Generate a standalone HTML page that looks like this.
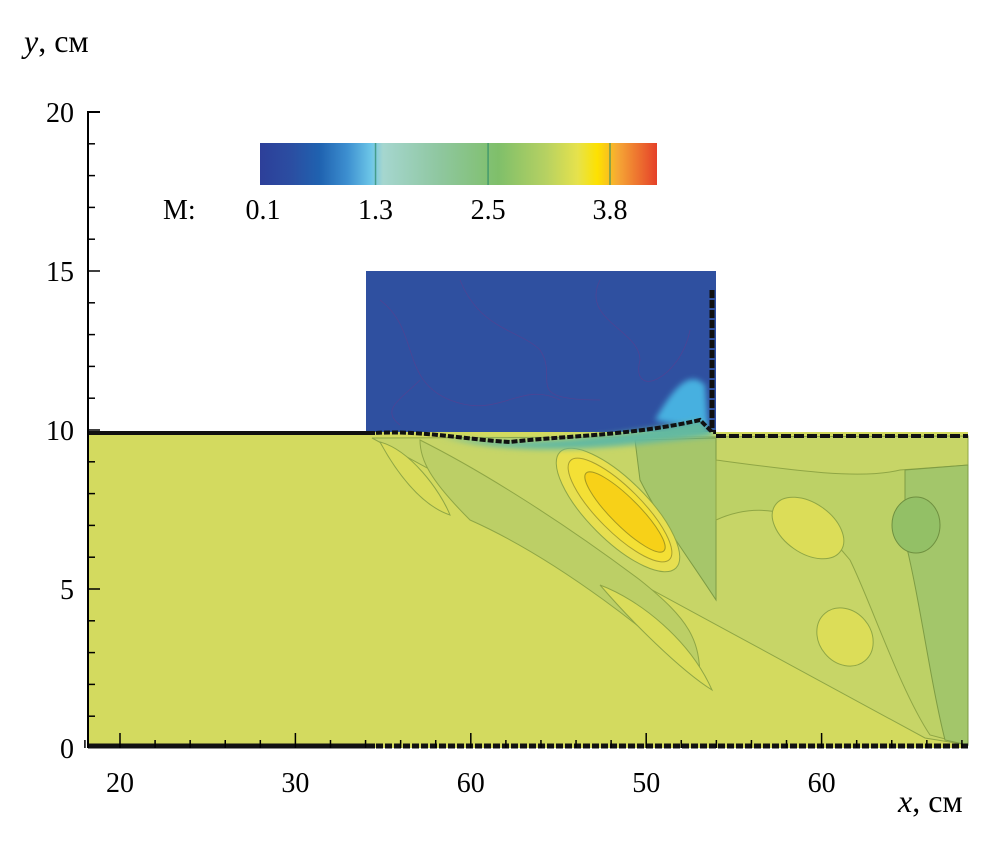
<!DOCTYPE html>
<html><head><meta charset="utf-8"><style>
html,body{margin:0;padding:0;background:#fff;}
svg{display:block;font-family:"Liberation Serif",serif;}
</style></head><body>
<svg id="chart" width="1008" height="847" viewBox="0 0 1008 847">
<defs>
<linearGradient id="cbar" x1="0" x2="1" y1="0" y2="0">
<stop offset="0" stop-color="#2d3f99"/><stop offset="0.08" stop-color="#2b4ea2"/>
<stop offset="0.15" stop-color="#1f62b0"/><stop offset="0.22" stop-color="#3d8fd0"/>
<stop offset="0.28" stop-color="#6cc6e8"/><stop offset="0.31" stop-color="#a5d6cf"/>
<stop offset="0.45" stop-color="#8fc7a0"/><stop offset="0.6" stop-color="#7fbf6a"/>
<stop offset="0.72" stop-color="#b6d162"/><stop offset="0.8" stop-color="#e6e24c"/>
<stop offset="0.85" stop-color="#fde100"/><stop offset="0.9" stop-color="#f6a935"/>
<stop offset="1" stop-color="#e5412a"/></linearGradient>
<filter id="blur" x="-20%" y="-20%" width="140%" height="140%"><feGaussianBlur stdDeviation="3"/></filter>
</defs>
<g id="field">
<rect x="88" y="432" width="880" height="316" fill="#d3da5f"/>
<rect x="366" y="271" width="350" height="161" fill="#2f50a0"/>
<path d="M372,438 L968,436 L968,745 L925,738 Z" fill="#c7d567" stroke="#8fa645" stroke-width="1"/>
<path d="M420,440 C480,470 560,520 640,580 C690,620 700,640 700,680 C660,640 560,560 470,520 C430,480 420,460 420,440Z" fill="#bccf66" stroke="#8fa645" stroke-width="1"/>
<path d="M635,440 L716,438 L716,600 C690,560 660,520 640,480 Z" fill="#a6c66a" stroke="#7e9c44" stroke-width="1"/>
<path d="M716,460 C790,470 860,480 900,470 L968,465 L968,745 L930,735 C900,690 870,600 850,560 C810,510 760,500 716,520Z" fill="#bdd166" stroke="#8fa645" stroke-width="1"/>
<path d="M905,470 L968,465 L968,745 L945,740 C930,680 920,600 905,540Z" fill="#a3c66a" stroke="#7e9c44" stroke-width="1"/>
<ellipse cx="916" cy="525" rx="24" ry="28" fill="#93c066" stroke="#6f9040"/>
<path d="M380,442 C410,450 440,490 450,515 C420,505 395,470 380,442Z" fill="#d9dc5a" stroke="#8fa645"/>
<path d="M600,585 C640,600 690,640 712,690 C680,670 630,620 600,585Z" fill="#dadd5a" stroke="#8fa645"/>
<ellipse cx="808" cy="528" rx="40" ry="25" transform="rotate(35 808 528)" fill="#dcdd58" stroke="#8fa645"/>
<ellipse cx="845" cy="637" rx="31" ry="26" transform="rotate(50 845 637)" fill="#dcdd58" stroke="#8fa645"/>
<ellipse cx="618" cy="510" rx="82" ry="30" transform="rotate(45 618 510)" fill="#e7df50" stroke="#8fa645"/>
<ellipse cx="620" cy="510" rx="70" ry="22" transform="rotate(45 620 510)" fill="#f4e035" stroke="#a7a030"/>
<ellipse cx="625" cy="512" rx="55" ry="14" transform="rotate(45 625 512)" fill="#f7d118" stroke="#a79a20"/>
<path d="M655,420 C675,385 690,370 705,385 L708,428 C690,426 670,424 655,420Z" fill="#46b0e0" filter="url(#blur)"/>
<path d="M440,436 C520,448 600,438 700,420 L716,436 L640,444 C560,452 500,452 440,436Z" fill="#63b9a0" filter="url(#blur)"/>
<g fill="none" stroke="#5a3f90" stroke-width="0.8" opacity="0.7">
<path d="M380,300 C420,330 400,380 450,400 C500,420 520,380 560,400"/>
<path d="M460,280 C480,330 520,330 540,350 C560,380 520,400 600,400"/>
<path d="M600,280 C580,320 640,330 640,360 C630,400 680,380 690,330"/>
<path d="M420,380 C400,400 380,410 400,425"/>
</g>
<path d="M88,433 L375,433 C420,430 470,440 510,442 C560,436 630,436 700,420 L712,432 L716,432" fill="none" stroke="#111" stroke-width="4" stroke-dasharray="6 2"/>
<line x1="88" y1="433" x2="375" y2="433" stroke="#111" stroke-width="4"/>
<line x1="712" y1="290" x2="712" y2="432" stroke="#111" stroke-width="5" stroke-dasharray="8 2"/>
<line x1="716" y1="436" x2="968" y2="436" stroke="#111" stroke-width="4" stroke-dasharray="10 3"/>
<line x1="88" y1="746" x2="968" y2="746" stroke="#111" stroke-width="5" stroke-dasharray="7 2"/>
<line x1="88" y1="746" x2="375" y2="746" stroke="#111" stroke-width="5"/>
</g>
<g id="axes"></g>
<g id="colorbar">
<rect x="260" y="143" width="397" height="42" fill="url(#cbar)"/>
</g>
<text x="24" y="52" font-size="32" font-style="italic">y<tspan font-style="normal">, см</tspan></text>
<text x="898" y="812" font-size="32" font-style="italic">x<tspan font-style="normal">, см</tspan></text>
<script>
const xTickValues=[20,30,40,50,60];
const xTickLabels=["20","30","60","50","60"];
const yTickValues=[0,5,10,15,20];
const yTickLabels=["0","5","10","15","20"];
const cbarValues=[0.1,1.3,2.5,3.8];
const cbarLabels=["0.1","1.3","2.5","3.8"];
const NS="http://www.w3.org/2000/svg";
function xs(v){return 120+(v-20)*17.54;}
function ys(v){return 748-v*31.8;}
function cs(v){return 263+(v-0.1)*(347/3.7);}
const ax=document.getElementById('axes');
function mk(tag,attrs,parent){const e=document.createElementNS(NS,tag);for(const k in attrs)e.setAttribute(k,attrs[k]);parent.appendChild(e);return e;}
let yl=mk('line',{x1:88,y1:ys(20),x2:88,y2:748,stroke:'#000','stroke-width':2},ax);


let tl=mk('line',{x1:87,y1:ys(20),x2:100,y2:ys(20),stroke:'#000','stroke-width':2},ax);


for(let v=1;v<20;v++){
  const major=v%5===0;
  const t=mk('line',{x1:88,y1:ys(v),x2:major?100:95,y2:ys(v),stroke:'#000','stroke-width':1.5},ax);
  
  
}
yTickValues.forEach((v,i)=>{
  const t=mk('text',{x:74,y:ys(v)+10,'font-size':28,'text-anchor':'end'},ax);
  t.textContent=yTickLabels[i];
  
  
});
for(let v=18;v<=68;v+=2){
  const major=v%10===0;
  const t=mk('line',{x1:xs(v),y1:748,x2:xs(v),y2:major?733:740,stroke:'#000','stroke-width':1.5},ax);
  
  
}
xTickValues.forEach((v,i)=>{
  const t=mk('text',{x:xs(v),y:792,'font-size':28,'text-anchor':'middle'},ax);
  t.textContent=xTickLabels[i];
  
  
});
const cb=document.getElementById('colorbar');
cbarValues.slice(1).forEach((v)=>{
  const l=mk('line',{x1:cs(v),y1:143,x2:cs(v),y2:185,stroke:'#2a8a6a','stroke-width':1.5,opacity:0.7},cb);
  
  
});
const mt=mk('text',{x:163,y:219,'font-size':28},cb);
mt.textContent='M:';


cbarValues.forEach((v,i)=>{
  const t=mk('text',{x:cs(v),y:219,'font-size':28,'text-anchor':'middle'},cb);
  t.textContent=cbarLabels[i];
  
  
});
</script>
</svg>
</body></html>
